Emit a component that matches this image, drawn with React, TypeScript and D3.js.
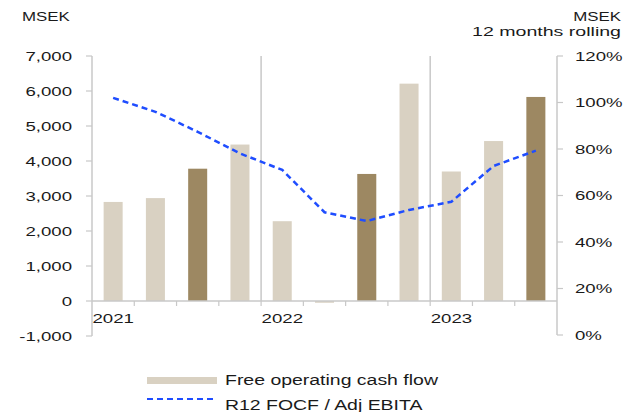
import React from "react";
import * as d3 from "d3";

const quarters = ["Q1 2021", "Q2 2021", "Q3 2021", "Q4 2021", "Q1 2022", "Q2 2022", "Q3 2022", "Q4 2022", "Q1 2023", "Q2 2023", "Q3 2023"];
const focf = [2830, 2940, 3780, 4470, 2280, -50, 3630, 6210, 3700, 4570, 5830];
const ratio = [102, 96, 87.4, 78.1, 71, 52.8, 49, 53.8, 57.3, 72.7, 79.3];
const leftTicks = [-1000, 0, 1000, 2000, 3000, 4000, 5000, 6000, 7000];
const rightTicks = [0, 20, 40, 60, 80, 100, 120];
const years = ["2021", "2022", "2023"];
const yearStart = ["Q1 2021", "Q1 2022", "Q1 2023"];

const W = 627;
const H = 412;
const LIGHT = "#d9d1c2";
const DARK = "#9d8862";
const BLUE = "#1f4dff";
const AXIS = "#c8c8c8";
const TXT = "#1a1a1a";
const FONT = "'Liberation Sans', Arial, sans-serif";

function T({ x, y, children, anchor = "start", size = 13.5, sx = 1.38 }: any) {
  return (
    <text
      transform={`translate(${x},${y}) scale(${sx},1)`}
      textAnchor={anchor}
      fontFamily={FONT}
      fontSize={size}
      fill={TXT}
    >
      {children}
    </text>
  );
}

export default function App() {
  const left = 92;
  const right = 557;
  const x = d3.scaleBand<string>().domain(quarters).range([left, right]).paddingInner(0.55).paddingOuter(0.275);
  const yL = d3.scaleLinear().domain([-1000, 7000]).range([336, 56]);
  const yR = d3.scaleLinear().domain([0, 120]).range([335, 56]);
  const gap = (x.step() - x.bandwidth()) / 2;
  const boundary = (q: string) => (x(q) as number) - gap;
  const cx = (q: string) => (x(q) as number) + x.bandwidth() / 2;
  const y0 = yL(0);

  const line = d3
    .line<number>()
    .x((_, i) => cx(quarters[i]))
    .y((d) => yR(d));

  return (
    <svg width={W} height={H} style={{ position: "absolute", left: 0, top: 0, background: "#fff" }}>
      {yearStart.slice(1).map((q) => (
        <line key={q} x1={boundary(q)} x2={boundary(q)} y1={56} y2={y0} stroke={AXIS} strokeWidth={1.5} />
      ))}

      {focf.map((v, i) => {
        const q = quarters[i];
        const top = Math.min(yL(v), y0);
        const h = Math.abs(yL(v) - y0);
        return (
          <rect key={q} x={x(q)} y={top} width={x.bandwidth()} height={Math.max(h, 1)} fill={q.startsWith("Q3") ? DARK : LIGHT} />
        );
      })}

      <line x1={left} x2={right} y1={y0} y2={y0} stroke={AXIS} strokeWidth={1.5} />
      {quarters.slice(1).map((q) => (
        <line key={q} x1={boundary(q)} x2={boundary(q)} y1={y0} y2={y0 + 5} stroke={AXIS} strokeWidth={1.2} />
      ))}

      <line x1={left} x2={left} y1={yL(7000)} y2={yL(-1000)} stroke={AXIS} strokeWidth={1.5} />
      {leftTicks.map((t) => (
        <g key={t}>
          <line x1={left - 6} x2={left} y1={yL(t)} y2={yL(t)} stroke={AXIS} strokeWidth={1.2} />
          <T x={72} y={yL(t) + 4.8} anchor="end">
            {d3.format(",")(t).replace("−", "-")}
          </T>
        </g>
      ))}

      <line x1={right} x2={right} y1={yR(120)} y2={yR(0)} stroke={AXIS} strokeWidth={1.5} />
      {rightTicks.map((t) => (
        <g key={t}>
          <line x1={right} x2={right + 6} y1={yR(t)} y2={yR(t)} stroke={AXIS} strokeWidth={1.2} />
          <T x={575} y={yR(t) + 4.8}>
            {t + "%"}
          </T>
        </g>
      ))}

      {years.map((yr, i) => (
        <T key={yr} x={boundary(yearStart[i]) + 0.5} y={323}>
          {yr}
        </T>
      ))}

      <path d={line(ratio) as string} fill="none" stroke={BLUE} strokeWidth={2.5} strokeDasharray="6,4" />

      <T x={22} y={21} sx={1.25}>MSEK</T>
      <T x={621} y={21} anchor="end" sx={1.25}>MSEK</T>
      <T x={621} y={36} anchor="end" sx={1.45}>12 months rolling</T>

      <rect x={147} y={377} width={70} height={7} fill={LIGHT} />
      <T x={225} y={385} size={14} sx={1.39}>Free operating cash flow</T>
      <line x1={147} x2={217} y1={399} y2={399} stroke={BLUE} strokeWidth={2} strokeDasharray="6,4" />
      <T x={225} y={410} size={14} sx={1.39}>R12 FOCF / Adj EBITA</T>
    </svg>
  );
}
